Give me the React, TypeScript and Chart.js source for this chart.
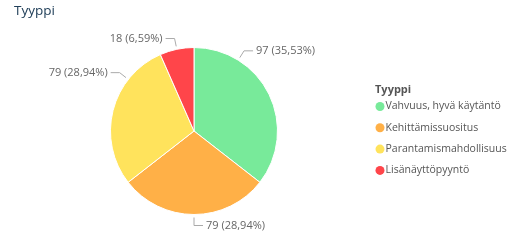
import React, { useEffect, useRef } from "react";
import { Chart, registerables } from "chart.js";

Chart.register(...registerables);

const chartTitle = "Tyyppi";
const legendTitle = "Tyyppi";
const categories = [
  "Vahvuus, hyvä käytäntö",
  "Kehittämissuositus",
  "Parantamismahdollisuus",
  "Lisänäyttöpyyntö",
];
const values = [97, 79, 79, 18];
const sliceColors = ["#78EA9A", "#FFB047", "#FFE35C", "#FF454A"];

const FONT = "'Open Sans', 'Noto Sans', sans-serif";

const labelPlugin = {
  id: "leaderLabels",
  afterDatasetsDraw(chart: any, _args: any, opts: any) {
    const ctx = chart.ctx;
    const meta = chart.getDatasetMeta(0);
    const data = chart.data.datasets[0].data as number[];
    const total = data.reduce((a, b) => a + b, 0);
    const fracs: number[] = opts.anchorFractions || [];
    ctx.save();
    ctx.font = `11px ${FONT}`;
    ctx.textBaseline = "middle";
    meta.data.forEach((arc: any, i: number) => {
      const p = arc.getProps(["x", "y", "startAngle", "endAngle", "outerRadius"], true);
      const f = fracs[i] ?? 0.5;
      const a = p.startAngle + f * (p.endAngle - p.startAngle);
      const c = Math.cos(a), s = Math.sin(a);
      const r1 = p.outerRadius + 3;
      const r2 = p.outerRadius + 11;
      const x1 = p.x + r1 * c, y1 = p.y + r1 * s;
      const x2 = p.x + r2 * c, y2 = p.y + r2 * s;
      const dir = c < -0.01 ? -1 : 1;
      const x3 = x2 + dir * 9;
      ctx.strokeStyle = "#aaaaaa";
      ctx.lineWidth = 1;
      ctx.beginPath();
      ctx.moveTo(x1, y1);
      ctx.lineTo(x2, y2);
      ctx.lineTo(x3, y2);
      ctx.stroke();
      const pct = ((data[i] / total) * 100).toFixed(2).replace(".", ",");
      const txt = `${data[i]} (${pct}%)`;
      ctx.fillStyle = "#666666";
      ctx.textAlign = dir < 0 ? "right" : "left";
      ctx.fillText(txt, x3 + dir * 3, y2 + 0.5);
    });
    ctx.restore();
  },
};

const decorPlugin = {
  id: "decor",
  afterDraw(chart: any) {
    const ctx = chart.ctx;
    ctx.save();
    // chart title
    ctx.font = `13.5px ${FONT}`;
    ctx.fillStyle = "#22405a";
    ctx.textAlign = "left";
    ctx.textBaseline = "middle";
    ctx.fillText(chartTitle, 14, 11);
    // legend
    const lx = 375;
    ctx.font = `bold 11px ${FONT}`;
    ctx.fillStyle = "#555555";
    ctx.fillText(legendTitle, lx, 90);
    ctx.font = `10.5px ${FONT}`;
    categories.forEach((cat, i) => {
      const y = 106.5 + i * 21.3;
      ctx.beginPath();
      ctx.arc(lx + 5, y, 4.5, 0, Math.PI * 2);
      ctx.fillStyle = sliceColors[i];
      ctx.fill();
      ctx.fillStyle = "#555555";
      ctx.fillText(cat, lx + 10.5, y);
    });
    ctx.restore();
  },
};

export default function App() {
  const ref = useRef<HTMLCanvasElement>(null);
  useEffect(() => {
    document.body.style.margin = "0";
    const chart = new Chart(ref.current!, {
      type: "pie",
      data: {
        labels: categories,
        datasets: [
          {
            data: values,
            backgroundColor: sliceColors,
            borderColor: "#ffffff",
            borderWidth: 1,
          },
        ],
      },
      options: {
        responsive: false,
        animation: false,
        layout: { padding: { left: 110, right: 237, top: 47, bottom: 29 } },
        plugins: {
          legend: { display: false },
          tooltip: { enabled: false },
          title: { display: false },
          leaderLabels: { anchorFractions: [0.25, 0.5, 0.73, 0.5] },
        } as any,
      },
      plugins: [labelPlugin, decorPlugin],
    });
    return () => chart.destroy();
  }, []);
  return (
    <div style={{ width: 515, height: 244 }}>
      <canvas ref={ref} width={515} height={244} style={{ width: 515, height: 244 }} />
    </div>
  );
}
